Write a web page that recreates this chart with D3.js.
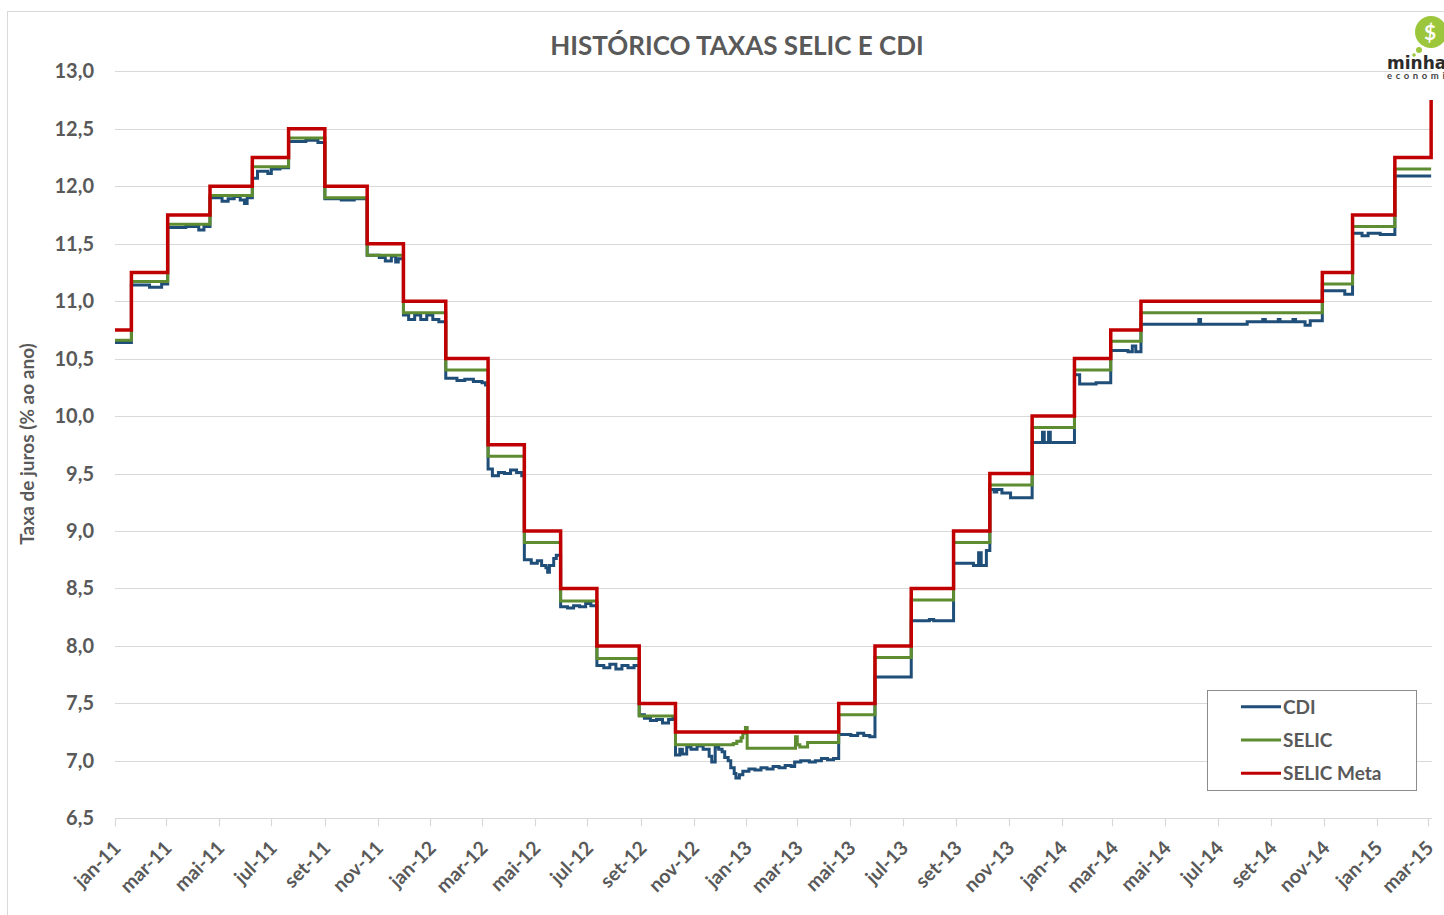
<!DOCTYPE html>
<html>
<head>
<meta charset="utf-8">
<script src="https://cdn.jsdelivr.net/npm/d3@7"></script>
<style>
  body { margin: 0; background: #fff; }
  svg text { font-family: Lato, "Open Sans", sans-serif; font-weight: bold; }
</style>
</head>
<body>
<svg id="chart" width="1444" height="915"></svg>
<script>
// month labels used on the x axis
const monthNames = ["jan", "fev", "mar", "abr", "mai", "jun", "jul", "ago", "set", "out", "nov", "dez"];
const yTicks = [6.5, 7.0, 7.5, 8.0, 8.5, 9.0, 9.5, 10.0, 10.5, 11.0, 11.5, 12.0, 12.5, 13.0];
const seriesNames = ["CDI", "SELIC", "SELIC Meta"];

// SELIC Meta (COPOM target) - date it takes effect, value
const selicMeta = [
  ["2011-01-01", 10.75], ["2011-01-20", 11.25], ["2011-03-03", 11.75], ["2011-04-21", 12.00],
  ["2011-06-09", 12.25], ["2011-07-21", 12.50], ["2011-09-01", 12.00], ["2011-10-20", 11.50],
  ["2011-12-01", 11.00], ["2012-01-19", 10.50], ["2012-03-08", 9.75], ["2012-04-19", 9.00],
  ["2012-05-31", 8.50], ["2012-07-12", 8.00], ["2012-08-30", 7.50], ["2012-10-11", 7.25],
  ["2013-04-18", 7.50], ["2013-05-30", 8.00], ["2013-07-11", 8.50], ["2013-08-29", 9.00],
  ["2013-10-10", 9.50], ["2013-11-28", 10.00], ["2014-01-16", 10.50], ["2014-02-27", 10.75],
  ["2014-04-03", 11.00], ["2014-10-30", 11.25], ["2014-12-04", 11.75], ["2015-01-22", 12.25],
  ["2015-03-05", 12.75]
];

// SELIC efetiva
const selic = [
  ["2011-01-01", 10.66], ["2011-01-20", 11.17], ["2011-03-03", 11.67], ["2011-04-21", 11.92],
  ["2011-06-09", 12.17], ["2011-07-21", 12.42], ["2011-09-01", 11.90], ["2011-10-20", 11.40],
  ["2011-12-01", 10.90], ["2012-01-19", 10.40], ["2012-03-08", 9.65], ["2012-04-19", 8.90],
  ["2012-05-31", 8.39], ["2012-07-12", 7.89], ["2012-08-30", 7.39], ["2012-10-11", 7.14],
  ["2012-12-17", 7.15], ["2012-12-21", 7.17], ["2012-12-26", 7.20], ["2012-12-28", 7.24],
  ["2012-12-31", 7.29], ["2013-01-02", 7.11], ["2013-02-27", 7.21], ["2013-03-01", 7.14],
  ["2013-03-04", 7.12], ["2013-03-13", 7.16], ["2013-04-18", 7.40], ["2013-05-30", 7.90],
  ["2013-07-11", 8.40], ["2013-08-29", 8.90], ["2013-10-10", 9.40], ["2013-11-28", 9.90],
  ["2014-01-16", 10.40], ["2014-02-27", 10.65], ["2014-04-03", 10.90], ["2014-10-30", 11.15],
  ["2014-12-04", 11.65], ["2015-01-22", 12.15], ["2015-03-05", 12.15]
];

// CDI
const cdi = [
  ["2011-01-01", 10.64], ["2011-01-20", 11.14], ["2011-02-10", 11.12], ["2011-02-24", 11.15],
  ["2011-03-03", 11.64], ["2011-03-24", 11.65], ["2011-04-08", 11.62], ["2011-04-14", 11.65],
  ["2011-04-21", 11.90], ["2011-05-05", 11.87], ["2011-05-12", 11.89], ["2011-05-19", 11.91],
  ["2011-05-26", 11.88], ["2011-05-31", 11.85], ["2011-06-03", 11.90], ["2011-06-09", 12.07],
  ["2011-06-15", 12.13], ["2011-06-27", 12.11], ["2011-07-01", 12.15], ["2011-07-11", 12.16],
  ["2011-07-21", 12.39], ["2011-08-10", 12.40], ["2011-08-24", 12.38], ["2011-09-01", 11.89],
  ["2011-09-20", 11.88], ["2011-10-05", 11.89], ["2011-10-20", 11.40], ["2011-11-03", 11.38],
  ["2011-11-10", 11.35], ["2011-11-17", 11.39], ["2011-11-22", 11.34], ["2011-11-25", 11.37],
  ["2011-12-01", 10.88], ["2011-12-07", 10.84], ["2011-12-14", 10.88], ["2011-12-21", 10.84],
  ["2011-12-28", 10.88], ["2012-01-04", 10.84], ["2012-01-11", 10.82],
  ["2012-01-19", 10.33], ["2012-02-01", 10.31], ["2012-02-10", 10.32], ["2012-02-20", 10.30],
  ["2012-03-01", 10.29], ["2012-03-05", 10.27],
  ["2012-03-08", 9.54], ["2012-03-13", 9.48], ["2012-03-20", 9.51], ["2012-03-27", 9.50],
  ["2012-04-03", 9.53], ["2012-04-10", 9.51], ["2012-04-16", 9.48],
  ["2012-04-19", 8.75], ["2012-04-27", 8.72], ["2012-05-04", 8.74], ["2012-05-09", 8.70],
  ["2012-05-14", 8.68], ["2012-05-16", 8.64], ["2012-05-18", 8.70], ["2012-05-23", 8.76],
  ["2012-05-26", 8.79],
  ["2012-05-31", 8.34], ["2012-06-08", 8.33], ["2012-06-15", 8.35], ["2012-06-22", 8.34],
  ["2012-06-29", 8.37], ["2012-07-05", 8.35],
  ["2012-07-12", 7.83], ["2012-07-20", 7.81], ["2012-07-27", 7.84], ["2012-08-03", 7.80],
  ["2012-08-10", 7.83], ["2012-08-17", 7.81], ["2012-08-24", 7.83],
  ["2012-08-30", 7.40], ["2012-09-05", 7.37], ["2012-09-12", 7.35], ["2012-09-19", 7.36],
  ["2012-09-26", 7.33], ["2012-10-03", 7.36], ["2012-10-08", 7.37],
  ["2012-10-11", 7.05], ["2012-10-16", 7.10], ["2012-10-19", 7.06], ["2012-10-24", 7.12],
  ["2012-10-29", 7.10], ["2012-11-05", 7.13], ["2012-11-12", 7.10], ["2012-11-19", 7.04],
  ["2012-11-22", 6.99], ["2012-11-26", 7.12], ["2012-11-30", 7.10], ["2012-12-04", 7.08],
  ["2012-12-07", 7.03], ["2012-12-11", 7.00], ["2012-12-14", 6.94], ["2012-12-18", 6.89],
  ["2012-12-20", 6.85], ["2012-12-24", 6.88], ["2012-12-28", 6.91], ["2013-01-04", 6.93],
  ["2013-01-11", 6.92], ["2013-01-18", 6.94], ["2013-01-25", 6.93], ["2013-02-01", 6.95],
  ["2013-02-08", 6.94], ["2013-02-15", 6.96], ["2013-02-22", 6.95], ["2013-02-26", 6.99],
  ["2013-03-05", 7.00], ["2013-03-15", 6.99], ["2013-03-22", 7.00], ["2013-03-29", 7.02],
  ["2013-04-05", 7.01], ["2013-04-12", 7.02],
  ["2013-04-18", 7.23], ["2013-05-02", 7.22], ["2013-05-10", 7.24], ["2013-05-17", 7.22],
  ["2013-05-24", 7.21],
  ["2013-05-30", 7.73], ["2013-07-11", 8.22], ["2013-08-01", 8.23], ["2013-08-06", 8.22],
  ["2013-08-29", 8.72], ["2013-09-21", 8.70], ["2013-09-27", 8.81], ["2013-09-30", 8.70],
  ["2013-10-06", 8.83],
  ["2013-10-10", 9.36], ["2013-10-15", 9.34], ["2013-10-18", 9.36], ["2013-10-24", 9.33],
  ["2013-11-03", 9.29],
  ["2013-11-28", 9.77], ["2013-12-10", 9.86], ["2013-12-12", 9.77], ["2013-12-17", 9.86],
  ["2013-12-19", 9.77],
  ["2014-01-16", 10.36], ["2014-01-22", 10.28], ["2014-02-10", 10.29],
  ["2014-02-27", 10.57], ["2014-03-19", 10.56], ["2014-03-24", 10.61], ["2014-03-28", 10.56],
  ["2014-04-03", 10.80], ["2014-06-09", 10.84], ["2014-06-11", 10.80], ["2014-08-04", 10.82],
  ["2014-08-22", 10.84], ["2014-08-25", 10.82], ["2014-09-09", 10.84], ["2014-09-11", 10.82],
  ["2014-09-26", 10.84], ["2014-09-29", 10.82], ["2014-10-10", 10.79], ["2014-10-16", 10.83],
  ["2014-10-30", 11.09], ["2014-11-25", 11.06],
  ["2014-12-04", 11.59], ["2014-12-15", 11.57], ["2014-12-22", 11.59], ["2015-01-05", 11.58],
  ["2015-01-22", 12.09], ["2015-03-05", 12.09]
];

const parseDate = d3.utcParse("%Y-%m-%d");
const toPoints = arr => arr.map(d => ({ date: parseDate(d[0]), value: d[1] }));

const series = [
  { name: seriesNames[0], points: toPoints(cdi), color: "#1F4E79", width: 3 },
  { name: seriesNames[1], points: toPoints(selic), color: "#5E8C31", width: 3 },
  { name: seriesNames[2], points: toPoints(selicMeta), color: "#C00000", width: 3.5 }
];

const svg = d3.select("#chart");
const textColor = "#595959";
const gridColor = "#d9d9d9";

// chart area border
svg.append("rect")
  .attr("x", 7.5).attr("y", 11.5)
  .attr("width", 1600).attr("height", 1000)
  .attr("fill", "#fff")
  .attr("stroke", "#d9d9d9");

const x = d3.scaleUtc()
  .domain([parseDate("2011-01-01"), parseDate("2015-03-06")])
  .range([115, 1432]);

const y = d3.scaleLinear()
  .domain([6.5, 13])
  .range([818.3, 71.3]);

const fmt = d3.formatLocale({ decimal: ",", thousands: ".", grouping: [3], currency: ["R$", ""] }).format(".1f");

// gridlines
svg.append("g")
  .selectAll("line")
  .data(yTicks)
  .enter().append("line")
  .attr("x1", x.range()[0]).attr("x2", x.range()[1])
  .attr("y1", d => Math.round(y(d)) + 0.5).attr("y2", d => Math.round(y(d)) + 0.5)
  .attr("stroke", gridColor)
  .attr("stroke-width", 1.2);

// y axis labels
svg.append("g")
  .selectAll("text")
  .data(yTicks)
  .enter().append("text")
  .attr("x", 94)
  .attr("y", d => y(d) + 7)
  .attr("text-anchor", "end")
  .attr("font-size", 20)
  .attr("fill", textColor)
  .text(d => fmt(d));

// x axis ticks + labels
const xTicks = d3.utcMonth.every(2).range(parseDate("2011-01-01"), parseDate("2015-03-02"));
const xAxis = svg.append("g");
xAxis.selectAll("line")
  .data(xTicks)
  .enter().append("line")
  .attr("x1", d => Math.round(x(d)) + 0.5).attr("x2", d => Math.round(x(d)) + 0.5)
  .attr("y1", y(6.5)).attr("y2", y(6.5) + 8)
  .attr("stroke", gridColor)
  .attr("stroke-width", 1.2);

xAxis.selectAll("text")
  .data(xTicks)
  .enter().append("text")
  .attr("transform", d => `translate(${x(d) + 7},${y(6.5) + 31}) rotate(-45)`)
  .attr("text-anchor", "end")
  .attr("font-size", 19.5)
  .attr("fill", textColor)
  .text(d => monthNames[d.getUTCMonth()] + "-" + String(d.getUTCFullYear()).slice(2));

// lines
const line = d3.line()
  .x(d => x(d.date))
  .y(d => y(d.value))
  .curve(d3.curveStepAfter);

svg.append("g")
  .selectAll("path")
  .data(series)
  .enter().append("path")
  .attr("d", d => line(d.points))
  .attr("fill", "none")
  .attr("stroke", d => d.color)
  .attr("stroke-width", d => d.width)
  .attr("stroke-linejoin", "miter");

// title
svg.append("text")
  .attr("x", 737).attr("y", 55)
  .attr("text-anchor", "middle")
  .attr("font-size", 26)
  .attr("fill", textColor)
  .text("HISTÓRICO TAXAS SELIC E CDI");

// y axis title
svg.append("text")
  .attr("transform", "translate(33.5,444) rotate(-90)")
  .attr("text-anchor", "middle")
  .attr("font-size", 19)
  .attr("fill", textColor)
  .text("Taxa de juros (% ao ano)");

// legend
const legend = svg.append("g");
legend.append("rect")
  .attr("x", 1207.5).attr("y", 690.5)
  .attr("width", 209).attr("height", 100)
  .attr("fill", "#fff")
  .attr("stroke", "#8c8c8c");

const items = legend.selectAll("g.item")
  .data(series)
  .enter().append("g")
  .attr("class", "item")
  .attr("transform", (d, i) => `translate(1241,${706.7 + i * 33.3})`);

items.append("line")
  .attr("x1", 0).attr("x2", 40)
  .attr("stroke", d => d.color)
  .attr("stroke-width", 3);

items.append("text")
  .attr("x", 42).attr("y", 7)
  .attr("font-size", 19)
  .attr("fill", textColor)
  .text(d => d.name);

// logo, partly cut by the right edge as in the original image
const logo = svg.append("g");
logo.append("circle").attr("cx", 1431).attr("cy", 32).attr("r", 16).attr("fill", "#9cc63b");
logo.append("circle").attr("cx", 1419).attr("cy", 50).attr("r", 3).attr("fill", "#9cc63b");
logo.append("circle").attr("cx", 1414).attr("cy", 55).attr("r", 1.8).attr("fill", "#9cc63b");
logo.append("text")
  .attr("x", 1430).attr("y", 40)
  .attr("text-anchor", "middle")
  .attr("font-size", 21)
  .attr("fill", "#fff")
  .text("$");
logo.append("text")
  .attr("x", 1387).attr("y", 69)
  .attr("font-size", 17)
  .style("font-family", "'DejaVu Sans', sans-serif")
  .attr("fill", "#2b2b2b")
  .text("minha");
logo.append("text")
  .attr("x", 1387).attr("y", 79)
  .attr("font-size", 9.5)
  .attr("letter-spacing", 3.6)
  .attr("fill", "#444")
  .text("economia");
</script>
</body>
</html>
